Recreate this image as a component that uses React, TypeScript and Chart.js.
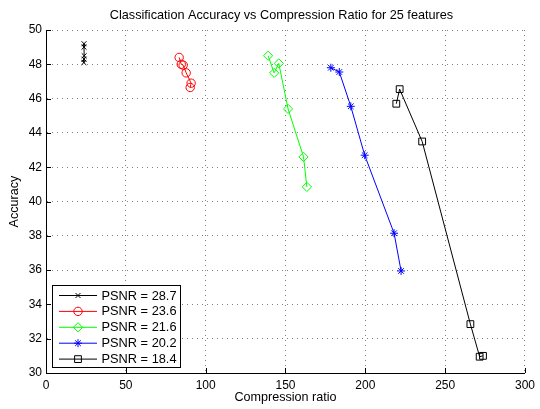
import React, { useEffect, useRef } from "react";
import { Chart, registerables } from "chart.js";
import { drawPoint } from "chart.js/helpers";

Chart.register(...registerables);

const TITLE = "Classification Accuracy vs Compression Ratio for 25 features";
const X_LABEL = "Compression ratio";
const Y_LABEL = "Accuracy";

const seriesNames = ["PSNR = 28.7", "PSNR = 23.6", "PSNR = 21.6", "PSNR = 20.2", "PSNR = 18.4"];
const seriesColors = ["#000000", "#ff0000", "#00ff00", "#0000ff", "#000000"];
const seriesMarkers = ["crossRot", "circle", "rectRot", "star", "rect"];
const markerSizes = [3.5, 4.2, 4.6, 4, 4.8];

const ratio287 = [23.8, 23.8, 23.9, 23.8, 23.7];
const acc287 = [49.2, 49.0, 48.5, 48.3, 48.1];

const ratio236 = [83.4, 84.7, 85.9, 87.8, 90.9, 90.3];
const acc236 = [48.4, 48.0, 47.95, 47.5, 46.9, 46.65];

const ratio216 = [139.1, 142.9, 145.8, 151.6, 161.3, 163.4];
const acc216 = [48.5, 47.5, 48.05, 45.4, 42.6, 40.85];

const ratio202 = [178.4, 183.7, 190.9, 199.6, 218.0, 222.4];
const acc202 = [47.8, 47.55, 45.55, 42.7, 38.15, 35.95];

const ratio184 = [219.4, 221.5, 235.6, 265.8, 271.6, 273.7];
const acc184 = [45.7, 46.55, 43.5, 32.85, 30.95, 31.0];

const xTicks = [0, 50, 100, 150, 200, 250, 300];
const yTicks = [30, 32, 34, 36, 38, 40, 42, 44, 46, 48, 50];

const allRatios = [ratio287, ratio236, ratio216, ratio202, ratio184];
const allAcc = [acc287, acc236, acc216, acc202, acc184];

const FONT = "'Liberation Sans', Arial, Helvetica, sans-serif";

const matlabPlugin = {
  id: "matlabDecor",
  afterDraw(chart: any) {
    const ctx = chart.ctx;
    const area = chart.chartArea;
    const xs = chart.scales.x;
    const ys = chart.scales.y;
    ctx.save();
    // inward tick marks
    ctx.strokeStyle = "#000";
    ctx.lineWidth = 1;
    ctx.beginPath();
    for (const t of xTicks) {
      const px = Math.round(xs.getPixelForValue(t)) + 0.5;
      ctx.moveTo(px, area.bottom);
      ctx.lineTo(px, area.bottom - 5);
    }
    for (const t of yTicks) {
      const py = Math.round(ys.getPixelForValue(t)) + 0.5;
      ctx.moveTo(area.left, py);
      ctx.lineTo(area.left + 5, py);
    }
    ctx.stroke();

    // title
    ctx.fillStyle = "#000";
    ctx.font = `12.7px ${FONT}`;
    ctx.textAlign = "center";
    ctx.textBaseline = "middle";
    ctx.fillText(TITLE, (area.left + area.right) / 2 - 4, 15);

    // legend
    const bx = 52.5, by = 285.5, bw = 128, bh = 82;
    ctx.fillStyle = "#fff";
    ctx.fillRect(bx, by, bw, bh);
    ctx.strokeStyle = "#000";
    ctx.lineWidth = 1;
    ctx.strokeRect(bx, by, bw, bh);
    ctx.font = `12.8px ${FONT}`;
    ctx.textAlign = "left";
    for (let i = 0; i < seriesNames.length; i++) {
      const cy = 295.5 + i * 15.9;
      ctx.strokeStyle = seriesColors[i];
      ctx.lineWidth = 1;
      ctx.beginPath();
      ctx.moveTo(59, cy);
      ctx.lineTo(97, cy);
      ctx.stroke();
      ctx.fillStyle = "rgba(0,0,0,0)";
      drawPoint(ctx, { pointStyle: seriesMarkers[i], radius: markerSizes[i], borderWidth: 1, rotation: 0 } as any, 78, cy);
      ctx.fillStyle = "#000";
      ctx.fillText(seriesNames[i], 101.5, cy + 0.5);
    }
    ctx.restore();
  },
};

export default function App() {
  const canvasRef = useRef<HTMLCanvasElement | null>(null);

  useEffect(() => {
    document.body.style.margin = "0";
    const canvas = canvasRef.current!;
    const datasets = allRatios.map((rs, i) => ({
      label: seriesNames[i],
      data: rs.map((x, j) => ({ x, y: allAcc[i][j] })),
      borderColor: seriesColors[i],
      backgroundColor: "rgba(0,0,0,0)",
      borderWidth: 1,
      pointStyle: seriesMarkers[i],
      pointRadius: markerSizes[i],
      pointBorderWidth: 1,
      pointBorderColor: seriesColors[i],
      pointBackgroundColor: "rgba(0,0,0,0)",
      showLine: true,
      fill: false,
      tension: 0,
    }));
    const chart = new Chart(canvas, {
      type: "scatter",
      data: { datasets },
      options: {
        animation: false,
        responsive: false,
        maintainAspectRatio: false,
        devicePixelRatio: 1,
        layout: { padding: { top: 30, right: 11, left: 0, bottom: 0 } },
        plugins: { legend: { display: false }, title: { display: false }, tooltip: { enabled: false } },
        scales: {
          x: {
            type: "linear",
            position: "bottom",
            min: 0,
            max: 300,
            afterBuildTicks: (s: any) => { s.ticks = xTicks.map((v) => ({ value: v })); },
            afterFit: (s: any) => { s.height = 36; },
            ticks: { color: "#000", font: { family: FONT, size: 12 }, padding: 5, maxRotation: 0 },
            grid: { color: "rgba(0,0,0,0.5)", drawTicks: false, lineWidth: 1 },
            border: { display: true, color: "#000", width: 1, dash: [1, 4] },
            title: { display: true, text: X_LABEL, color: "#000", font: { family: FONT, size: 12.6 }, padding: { top: 0, bottom: 4 } },
          },
          y: {
            type: "linear",
            min: 30,
            max: 50,
            afterBuildTicks: (s: any) => { s.ticks = yTicks.map((v) => ({ value: v })); },
            afterFit: (s: any) => { s.width = 46; },
            ticks: { color: "#000", font: { family: FONT, size: 12 }, padding: 4 },
            grid: { color: "rgba(0,0,0,0.5)", drawTicks: false, lineWidth: 1 },
            border: { display: true, color: "#000", width: 1, dash: [1, 4] },
            title: { display: true, text: Y_LABEL, color: "#000", font: { family: FONT, size: 12.6 }, padding: { top: 7, bottom: 0 } },
          },
        },
      },
      plugins: [matlabPlugin],
    } as any);
    return () => chart.destroy();
  }, []);

  return (
    <div style={{ position: "fixed", left: 0, top: 0, width: 540, height: 409, background: "#fff" }}>
      <canvas ref={canvasRef} width={540} height={409} />
    </div>
  );
}
